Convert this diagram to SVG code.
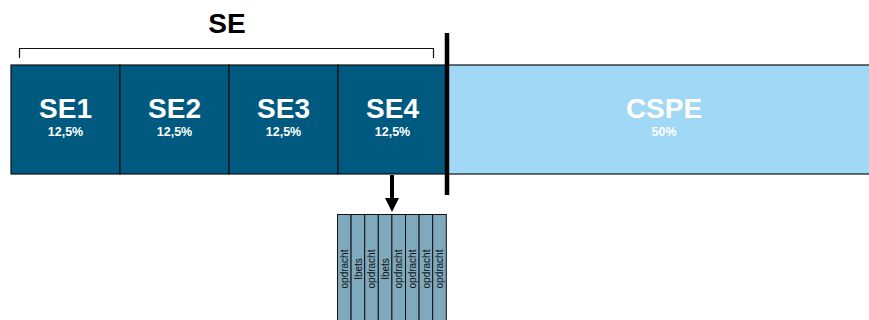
<svg xmlns="http://www.w3.org/2000/svg" width="869" height="320" viewBox="0 0 869 320">
<style>
.se{fill:#005a80;stroke:#111;stroke-width:1.2}
.big{font-family:"Liberation Sans",Arial,sans-serif;font-weight:bold;fill:#fff;text-anchor:middle;font-size:28px}
.pct{font-family:"Liberation Sans",Arial,sans-serif;font-weight:bold;fill:#fff;text-anchor:middle;font-size:12.5px}
.col{fill:#7fa9bd;stroke:#111;stroke-width:1}
.ct{font-family:"Liberation Sans",Arial,sans-serif;font-size:10px;fill:#111;text-anchor:middle}
</style>
<text x="227" y="33" font-family="Liberation Sans,Arial,sans-serif" font-weight="bold" font-size="28" text-anchor="middle" fill="#000">SE</text>
<g id="cspe">
<rect x="447" y="65" width="430" height="109" fill="#a0d8f5" stroke="#111" stroke-width="1.2"/>
<text class="big" x="664" y="118">CSPE</text>
<text class="pct" x="664" y="136">50%</text>
</g>
<g id="se1"><rect class="se" x="11" y="65" width="109" height="109"/><text class="big" x="65.5" y="118">SE1</text><text class="pct" x="65.5" y="136">12,5%</text></g>
<g id="se2"><rect class="se" x="120" y="65" width="109" height="109"/><text class="big" x="174.5" y="118">SE2</text><text class="pct" x="174.5" y="136">12,5%</text></g>
<g id="se3"><rect class="se" x="229" y="65" width="109" height="109"/><text class="big" x="283.5" y="118">SE3</text><text class="pct" x="283.5" y="136">12,5%</text></g>
<g id="se4"><rect class="se" x="338" y="65" width="109" height="109"/><text class="big" x="392.5" y="118">SE4</text><text class="pct" x="392.5" y="136">12,5%</text></g>
<g id="strip">
<rect class="col" x="337.5" y="214.5" width="13.6" height="110"/>
<rect class="col" x="351.1" y="214.5" width="13.6" height="110"/>
<rect class="col" x="364.7" y="214.5" width="13.6" height="110"/>
<rect class="col" x="378.3" y="214.5" width="13.6" height="110"/>
<rect class="col" x="391.9" y="214.5" width="13.6" height="110"/>
<rect class="col" x="405.5" y="214.5" width="13.6" height="110"/>
<rect class="col" x="419.1" y="214.5" width="13.6" height="110"/>
<rect class="col" x="432.7" y="214.5" width="13.6" height="110"/>
<text class="ct" transform="translate(348,269) rotate(-90)">opdracht</text>
<text class="ct" transform="translate(361.6,269) rotate(-90)">Ibets</text>
<text class="ct" transform="translate(375.2,269) rotate(-90)">opdracht</text>
<text class="ct" transform="translate(388.8,269) rotate(-90)">Ibets</text>
<text class="ct" transform="translate(402.4,269) rotate(-90)">opdracht</text>
<text class="ct" transform="translate(416,269) rotate(-90)">opdracht</text>
<text class="ct" transform="translate(429.6,269) rotate(-90)">opdracht</text>
<text class="ct" transform="translate(443.2,269) rotate(-90)">opdracht</text>
</g>
<g id="connectors">
<path d="M19.5,58 V48.5 H433.5 V58" fill="none" stroke="#111" stroke-width="1.2"/>
<line x1="447" y1="33" x2="447" y2="195" stroke="#000" stroke-width="4.5"/>
<line x1="392" y1="175" x2="392" y2="200" stroke="#000" stroke-width="4"/>
<path d="M385,198 L399,198 L392,212 Z" fill="#000"/>
</g>
</svg>
